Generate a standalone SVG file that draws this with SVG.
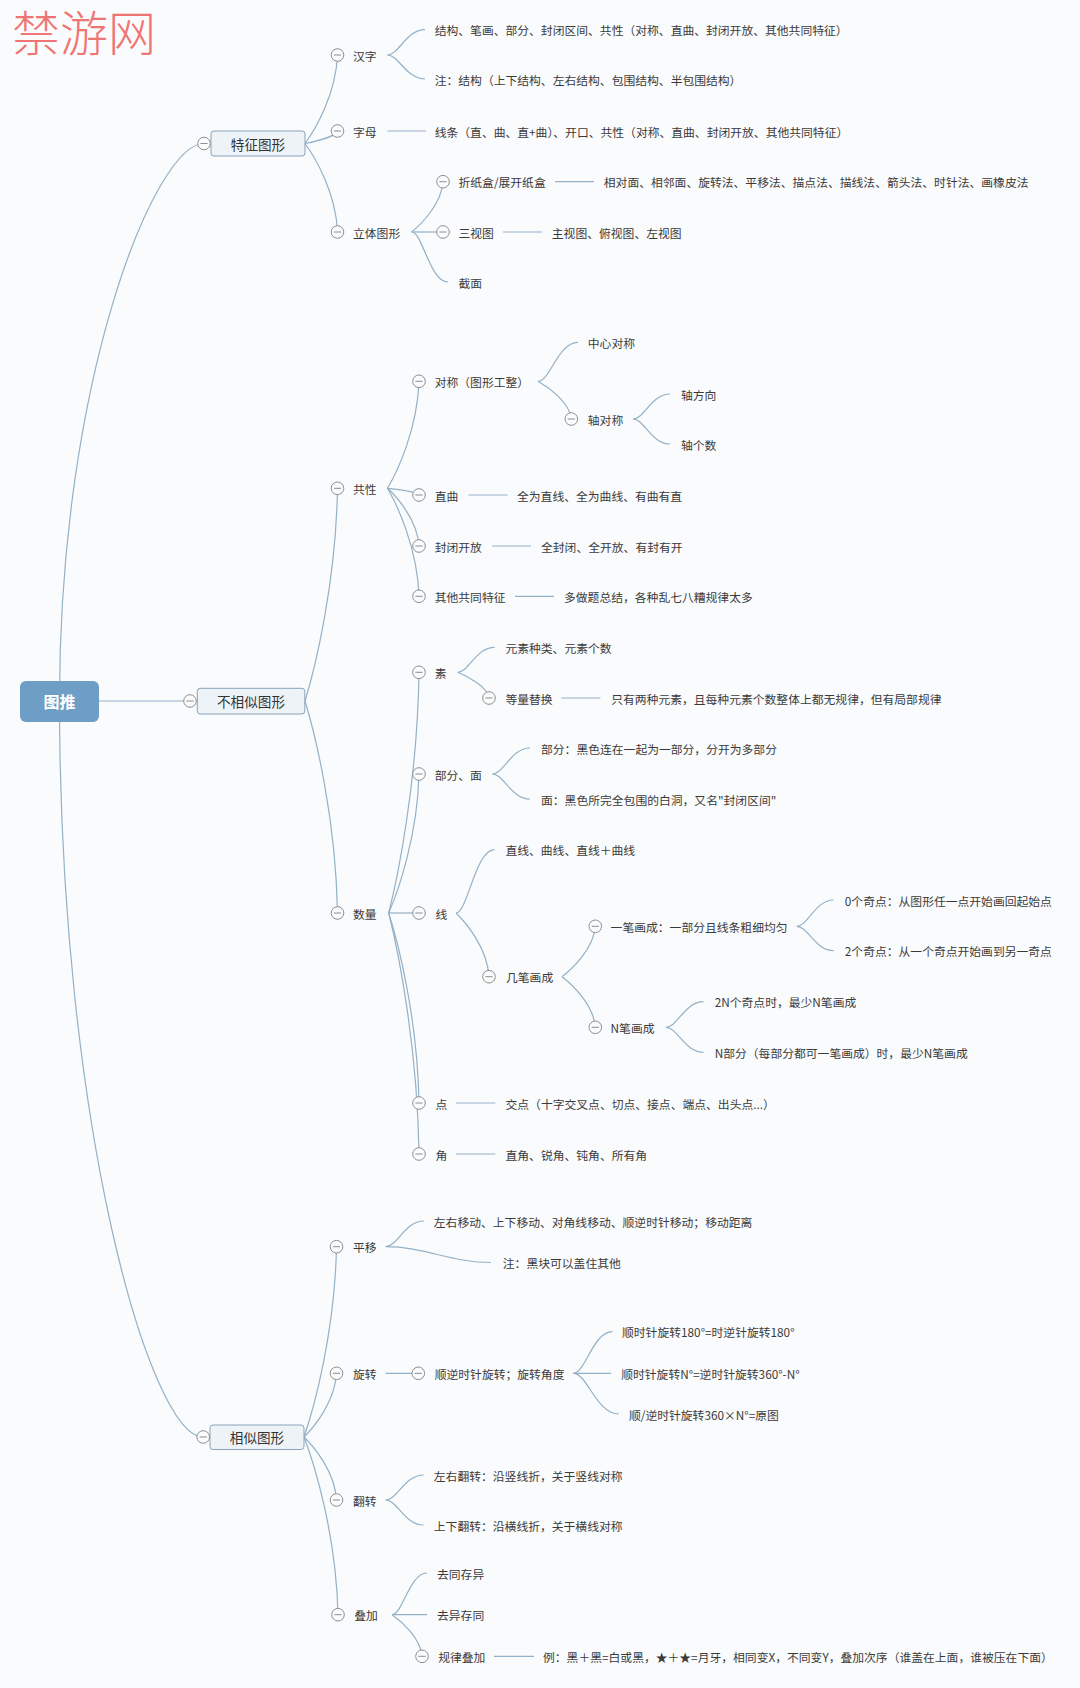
<svg xmlns="http://www.w3.org/2000/svg" xmlns:xlink="http://www.w3.org/1999/xlink" width="1080" height="1688" viewBox="0 0 1080 1688">
<style>
.conn path{fill:none;stroke:#93b1c7;stroke-width:1.2}
.t{font-family:"Noto Sans CJK SC","Liberation Sans",sans-serif;font-size:11.8px;fill:#3a3a3a;dominant-baseline:central}
.bt{font-family:"Noto Sans CJK SC","Liberation Sans",sans-serif;font-size:13.6px;fill:#333;dominant-baseline:central;text-anchor:middle}
.rt{font-family:"Noto Sans CJK SC","Liberation Sans",sans-serif;font-size:16px;font-weight:bold;fill:#fff;dominant-baseline:central;text-anchor:middle}
.box{fill:#eef3f8;stroke:#8aa3ba;stroke-width:1}
.rootbox{fill:#6e9ec5}
.wm{font-family:"Noto Sans CJK SC",serif;font-size:48px;font-weight:300;fill:#ef7474;dominant-baseline:central}
</style>
<defs>
<g id="col"><circle r="6.3" fill="#fafbfc" stroke="#8e8e8e" stroke-width="1"/><path d="M-3.6 0H3.6" stroke="#8e8e8e" stroke-width="1"/></g>
</defs>
<rect width="1080" height="1688" fill="#fafbfc"/>
<text class="wm" x="12" y="30">禁游网</text>
<g id="diagram" transform="translate(0,-1)">
<g id="connectors" class="conn">
<path d="M59.5 701C59.5 380 155 144.5 204 144.5"/>
<path d="M59.5 701C59.5 1125 150 1438 203.2 1438"/>
<path d="M99 702H190"/>
<path d="M305 144.5c9.75 -13.3 30.9 -48.7 32.5 -88.5"/>
<path d="M305 144.5c9.75 -1.9 30.9 -6.9 32.5 -12.5"/>
<path d="M305 144.5c9.75 13.3 30.9 48.7 32.5 88.5"/>
<path d="M387.5 56c11.25 0 18.75 -25.3 37.5 -25.3"/>
<path d="M387.5 56c11.25 0 18.75 24 37.5 24"/>
<path d="M387.5 132H426"/>
<path d="M411.6 233c9.4 -7.5 29.8 -27.7 31.4 -50.3"/>
<path d="M411.6 233H443"/>
<path d="M411.6 233c10.9 0 18.2 50 36.4 50"/>
<path d="M555 182.7H594"/>
<path d="M503 233H542"/>
<path d="M305 702c9.75 -31.9 30.9 -117 32.5 -212.7"/>
<path d="M305 702c9.75 31.8 30.9 116.6 32.5 212"/>
<path d="M387.5 489.3c9.45 -16.05 29.9 -58.85 31.5 -107"/>
<path d="M387.5 489.3c9.45 1 29.9 3.7 31.5 6.7"/>
<path d="M387.5 489.3c9.45 8.7 29.9 31.7 31.5 57.7"/>
<path d="M387.5 489.3c9.45 16.2 29.9 59.4 31.5 108"/>
<path d="M538 382.3c12 0 20 -39 40 -39"/>
<path d="M538 382.3c10 5.7 31.6 20.7 33.3 37.7"/>
<path d="M633 420c11.1 0 18.5 -25 37 -25"/>
<path d="M633 420c11.1 0 18.5 25 37 25"/>
<path d="M468.5 496H507.6"/>
<path d="M492 547H531"/>
<path d="M515 597.3H554"/>
<path d="M388.7 914c9.1 -36.1 28.8 -132.4 30.3 -240.7"/>
<path d="M388.7 914c9.1 -20.85 28.8 -76.45 30.3 -139"/>
<path d="M388.7 914H419"/>
<path d="M388.7 914c9.1 28.5 28.8 104.5 30.3 190"/>
<path d="M388.7 914c9.1 36.15 28.8 132.55 30.3 241"/>
<path d="M457.7 673.3c11 0 18.4 -25 36.8 -25"/>
<path d="M457.7 673.3c9.4 3.9 29.7 14.1 31.3 25.7"/>
<path d="M561.3 699H600.4"/>
<path d="M492.4 775c11.3 0 18.8 -26 37.6 -26"/>
<path d="M492.4 775c11.3 0 18.8 25 37.6 25"/>
<path d="M456 914c11.55 0 19.25 -63.3 38.5 -63.3"/>
<path d="M456 914c9.9 9.55 31.35 35 33 63.7"/>
<path d="M562 977.7c10 -7.56 31.6 -27.7 33.3 -50.4"/>
<path d="M562 977.7c10 7.6 31.6 27.8 33.3 50.6"/>
<path d="M796.8 927.3c11 0 18.4 -26.3 36.8 -26.3"/>
<path d="M796.8 927.3c11 0 18.4 24.4 36.8 24.4"/>
<path d="M666 1028.3c11.25 0 18.75 -25.6 37.5 -25.6"/>
<path d="M666 1028.3c11.25 0 18.75 25 37.5 25"/>
<path d="M456 1104H495.3"/>
<path d="M456 1155H495.3"/>
<path d="M304 1438c9.75 -28.5 30.9 -104.7 32.5 -190.3"/>
<path d="M304 1438c9.75 -9.55 30.9 -35 32.5 -63.7"/>
<path d="M304 1438c9.75 9.45 30.9 34.65 32.5 63"/>
<path d="M304 1438c10.2 26.65 32.3 97.7 34 177.7"/>
<path d="M385.7 1247.7c11.5 0 19.15 -25.7 38.3 -25.7"/>
<path d="M385.7 1247.7C425 1247.7 450 1263.5 491 1263.5"/>
<path d="M385.7 1374.3H418.3"/>
<path d="M573.5 1374.3c11.7 0 19.5 -41.6 39 -41.6"/>
<path d="M573.5 1374.3H611"/>
<path d="M573.5 1374.3c13.65 0 22.75 40.7 45.5 40.7"/>
<path d="M385.7 1501c11.4 0 18.95 -25 37.9 -25"/>
<path d="M385.7 1501c11.4 0 18.95 25 37.9 25"/>
<path d="M392 1615.7c10.5 0 17.5 -41.7 35 -41.7"/>
<path d="M392 1615.7H427"/>
<path d="M392 1615.7c9 6.25 28.5 22.9 30 41.6"/>
<path d="M494 1657.3H534"/>
</g>
<g id="root"><rect class="rootbox" x="20" y="682" width="79" height="41" rx="6"/><text class="rt" x="59.5" y="702">图推</text></g>
<g id="n-tezheng"><rect class="box" x="211" y="132" width="94" height="25" rx="3"/><text class="bt" x="258" y="144.5">特征图形</text><use href="#col" x="204" y="144.5"/></g>
<g id="n-hanzi"><use href="#col" x="337.5" y="56"/><text class="t" x="353" y="56">汉字</text></g>
<g id="n-hanzi-1"><text class="t" x="434.7" y="30.7">结构、笔画、部分、封闭区间、共性（对称、直曲、封闭开放、其他共同特征）</text></g>
<g id="n-hanzi-2"><text class="t" x="434.7" y="80">注：结构（上下结构、左右结构、包围结构、半包围结构）</text></g>
<g id="n-zimu"><use href="#col" x="337.5" y="132"/><text class="t" x="353" y="132">字母</text></g>
<g id="n-zimu-1"><text class="t" x="434.7" y="132">线条（直、曲、直+曲）、开口、共性（对称、直曲、封闭开放、其他共同特征）</text></g>
<g id="n-liti"><use href="#col" x="337.5" y="233"/><text class="t" x="353" y="233">立体图形</text></g>
<g id="n-zhezhi"><use href="#col" x="443" y="182.7"/><text class="t" x="458.5" y="182.7">折纸盒/展开纸盒</text></g>
<g id="n-zhezhi-1"><text class="t" x="603.8" y="182.7">相对面、相邻面、旋转法、平移法、描点法、描线法、箭头法、时针法、画橡皮法</text></g>
<g id="n-sanshi"><use href="#col" x="443" y="233"/><text class="t" x="458.5" y="233">三视图</text></g>
<g id="n-sanshi-1"><text class="t" x="551.8" y="233">主视图、俯视图、左视图</text></g>
<g id="n-jiemian"><text class="t" x="458.5" y="283">截面</text></g>
<g id="n-buxiangsi"><rect class="box" x="197.3" y="689.3" width="107.5" height="25.7" rx="3"/><text class="bt" x="251" y="702">不相似图形</text><use href="#col" x="190" y="702"/></g>
<g id="n-gongxing"><use href="#col" x="337.5" y="489.3"/><text class="t" x="353" y="489.3">共性</text></g>
<g id="n-duichen"><use href="#col" x="419" y="382.3"/><text class="t" x="434.7" y="382.3">对称（图形工整）</text></g>
<g id="n-zhongxin"><text class="t" x="587.8" y="343.3">中心对称</text></g>
<g id="n-zhou"><use href="#col" x="571.3" y="420"/><text class="t" x="587.8" y="420">轴对称</text></g>
<g id="n-zhou-1"><text class="t" x="681" y="395">轴方向</text></g>
<g id="n-zhou-2"><text class="t" x="681" y="445">轴个数</text></g>
<g id="n-zhiqu"><use href="#col" x="419" y="496"/><text class="t" x="434.7" y="496">直曲</text></g>
<g id="n-zhiqu-1"><text class="t" x="517" y="496">全为直线、全为曲线、有曲有直</text></g>
<g id="n-fengbi"><use href="#col" x="419" y="547"/><text class="t" x="434.7" y="547">封闭开放</text></g>
<g id="n-fengbi-1"><text class="t" x="541" y="547">全封闭、全开放、有封有开</text></g>
<g id="n-qita"><use href="#col" x="419" y="597.3"/><text class="t" x="434.7" y="597.3">其他共同特征</text></g>
<g id="n-qita-1"><text class="t" x="564" y="597.3">多做题总结，各种乱七八糟规律太多</text></g>
<g id="n-shuliang"><use href="#col" x="337.5" y="914"/><text class="t" x="353" y="914">数量</text></g>
<g id="n-su"><use href="#col" x="419" y="673.3"/><text class="t" x="434.7" y="673.3">素</text></g>
<g id="n-su-1"><text class="t" x="505.4" y="648.3">元素种类、元素个数</text></g>
<g id="n-dengliang"><use href="#col" x="489" y="699"/><text class="t" x="505.4" y="699">等量替换</text></g>
<g id="n-dengliang-1"><text class="t" x="611.2" y="699">只有两种元素，且每种元素个数整体上都无规律，但有局部规律</text></g>
<g id="n-bufen"><use href="#col" x="419" y="775"/><text class="t" x="434.7" y="775">部分、面</text></g>
<g id="n-bufen-1"><text class="t" x="541" y="749">部分：黑色连在一起为一部分，分开为多部分</text></g>
<g id="n-bufen-2"><text class="t" x="541" y="800">面：黑色所完全包围的白洞，又名&quot;封闭区间&quot;</text></g>
<g id="n-xian"><use href="#col" x="419" y="914"/><text class="t" x="435.6" y="914">线</text></g>
<g id="n-xian-1"><text class="t" x="505.4" y="850.7">直线、曲线、直线＋曲线</text></g>
<g id="n-jibi"><use href="#col" x="489" y="977.7"/><text class="t" x="506" y="977.7">几笔画成</text></g>
<g id="n-yibi"><use href="#col" x="595.3" y="927.3"/><text class="t" x="610.6" y="927.3">一笔画成：一部分且线条粗细均匀</text></g>
<g id="n-yibi-1"><text class="t" x="844.8" y="901">0个奇点：从图形任一点开始画回起始点</text></g>
<g id="n-yibi-2"><text class="t" x="844.8" y="951.7">2个奇点：从一个奇点开始画到另一奇点</text></g>
<g id="n-nbi"><use href="#col" x="595.3" y="1028.3"/><text class="t" x="610.6" y="1028.3">N笔画成</text></g>
<g id="n-nbi-1"><text class="t" x="714.7" y="1002.7">2N个奇点时，最少N笔画成</text></g>
<g id="n-nbi-2"><text class="t" x="714.7" y="1053.3">N部分（每部分都可一笔画成）时，最少N笔画成</text></g>
<g id="n-dian"><use href="#col" x="419" y="1104"/><text class="t" x="435.6" y="1104">点</text></g>
<g id="n-dian-1"><text class="t" x="505.5" y="1104">交点（十字交叉点、切点、接点、端点、出头点...）</text></g>
<g id="n-jiao"><use href="#col" x="419" y="1155"/><text class="t" x="435.6" y="1155">角</text></g>
<g id="n-jiao-1"><text class="t" x="505.5" y="1155">直角、锐角、钝角、所有角</text></g>
<g id="n-xiangsi"><rect class="box" x="210" y="1426" width="94" height="24.5" rx="3"/><text class="bt" x="257" y="1438">相似图形</text><use href="#col" x="203.2" y="1438"/></g>
<g id="n-pingyi"><use href="#col" x="336.5" y="1247.7"/><text class="t" x="353" y="1247.7">平移</text></g>
<g id="n-pingyi-1"><text class="t" x="433.8" y="1222">左右移动、上下移动、对角线移动、顺逆时针移动；移动距离</text></g>
<g id="n-pingyi-2"><text class="t" x="502.8" y="1263.5">注：黑块可以盖住其他</text></g>
<g id="n-xuanzhuan"><use href="#col" x="336.5" y="1374.3"/><text class="t" x="353" y="1374.3">旋转</text></g>
<g id="n-jiaodu"><use href="#col" x="418.3" y="1374.3"/><text class="t" x="434.7" y="1374.3">顺逆时针旋转；旋转角度</text></g>
<g id="n-jiaodu-1"><text class="t" x="622" y="1332.7">顺时针旋转180°=时逆针旋转180°</text></g>
<g id="n-jiaodu-2"><text class="t" x="621.2" y="1374.3">顺时针旋转N°=逆时针旋转360°-N°</text></g>
<g id="n-jiaodu-3"><text class="t" x="629" y="1415">顺/逆时针旋转360×N°=原图</text></g>
<g id="n-fanzhuan"><use href="#col" x="336.5" y="1501"/><text class="t" x="353" y="1501">翻转</text></g>
<g id="n-fanzhuan-1"><text class="t" x="433.8" y="1476">左右翻转：沿竖线折，关于竖线对称</text></g>
<g id="n-fanzhuan-2"><text class="t" x="433.8" y="1526">上下翻转：沿横线折，关于横线对称</text></g>
<g id="n-diejia"><use href="#col" x="338" y="1615.7"/><text class="t" x="354.2" y="1615.7">叠加</text></g>
<g id="n-diejia-1"><text class="t" x="437" y="1574">去同存异</text></g>
<g id="n-diejia-2"><text class="t" x="437" y="1615.7">去异存同</text></g>
<g id="n-guilv"><use href="#col" x="422" y="1657.3"/><text class="t" x="438.2" y="1657.3">规律叠加</text></g>
<g id="n-guilv-1"><text class="t" x="543" y="1657.3">例：黑＋黑=白或黑，★＋★=月牙，相同变X，不同变Y，叠加次序（谁盖在上面，谁被压在下面）</text></g>
</g>
</svg>
